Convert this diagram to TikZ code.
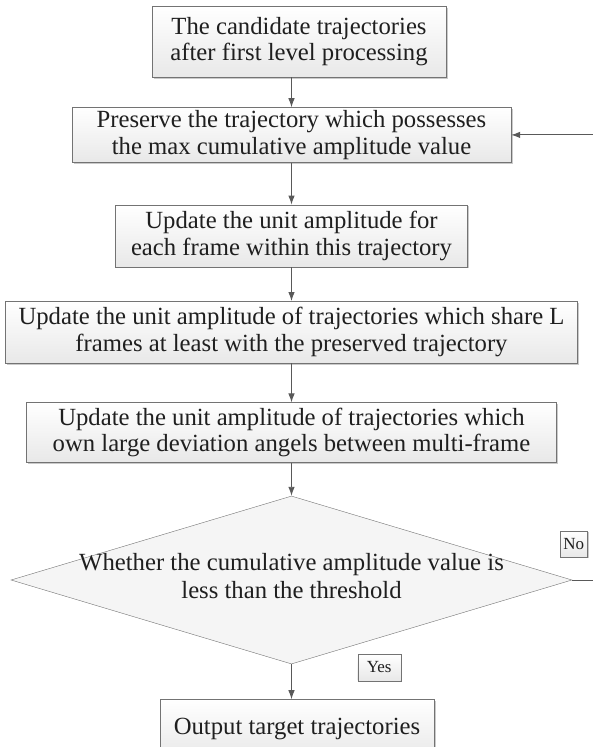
\documentclass[tikz,border=0pt]{standalone}
\usepackage{fontspec}
\setmainfont{Liberation Serif}
\usetikzlibrary{shapes.geometric,positioning,arrows.meta,shadows}

\begin{document}
\begin{tikzpicture}[x=1pt, y=-1pt, node distance={30pt},
    font=\fontsize{24.7}{26.5}\selectfont,
    main/.style = {draw=black!55, top color=white, bottom color=black!9, text=black!88,
        align=center, inner sep=0pt,
        drop shadow={shadow xshift=1.6pt, shadow yshift=-1.6pt, fill=black!35, opacity=0.6}},
    decision/.style = {diamond, draw=black!55, fill=black!4, inner sep=0pt},
    tag/.style = {main, font=\fontsize{17}{19}\selectfont},
    arr/.style = {-{Latex[length=9pt, width=6.5pt]}, draw=black!65, line width=0.9pt}]
    \useasboundingbox (0,0) rectangle (592,747);
    \node[main, minimum width=294pt, minimum height=71pt] (1) at (299,41.5)
        {The candidate trajectories\\after first level processing};
    \node[main, minimum width=439pt, minimum height=55pt] (2) [below=30pt of 1, xshift=-7.5pt]
        {Preserve the trajectory which possesses\\the max cumulative amplitude value};
    \node[main, minimum width=352pt, minimum height=62pt] (3) [below=42pt of 2]
        {Update the unit amplitude for\\each frame within this trajectory};
    \node[main, minimum width=572pt, minimum height=62pt] (4) [below=34pt of 3]
        {Update the unit amplitude of trajectories which share L\\frames at least with the preserved trajectory};
    \node[main, minimum width=530pt, minimum height=60pt] (5) [below=39pt of 4]
        {Update the unit amplitude of trajectories which\\own large deviation angels between multi-frame};
    \node[decision, minimum width=561pt, minimum height=168pt,
        label={[align=center, text=black!88, yshift=4pt, font=\fontsize{24.7}{28}\selectfont]center:Whether the cumulative amplitude value is\\less than the threshold}]
        (6) [below=33pt of 5] {};
    \node[main, minimum width=274pt, minimum height=60pt] (7) [below=35pt of 6, xshift=5.5pt]
        {Output target trajectories};
    \node[tag, minimum width=27pt, minimum height=26pt] (no) [above=23pt of 6.east, xshift=1.5pt] {No};
    \node[tag, minimum width=43pt, minimum height=27pt] (yes) [right=66pt of 6.south, yshift=-3pt] {Yes};
    \draw[arr] (1.south -| 2.north) -- (2.north);
    \draw[arr] (2) -- (3);
    \draw[arr] (3) -- (4);
    \draw[arr] (4) -- (5);
    \draw[arr] (5) -- (6);
    \draw[arr] (6.south) -- (6.south |- 7.north);
    \draw[arr] (6.east) -- ++(24,0) |- (2.east);
\end{tikzpicture}
\end{document}
